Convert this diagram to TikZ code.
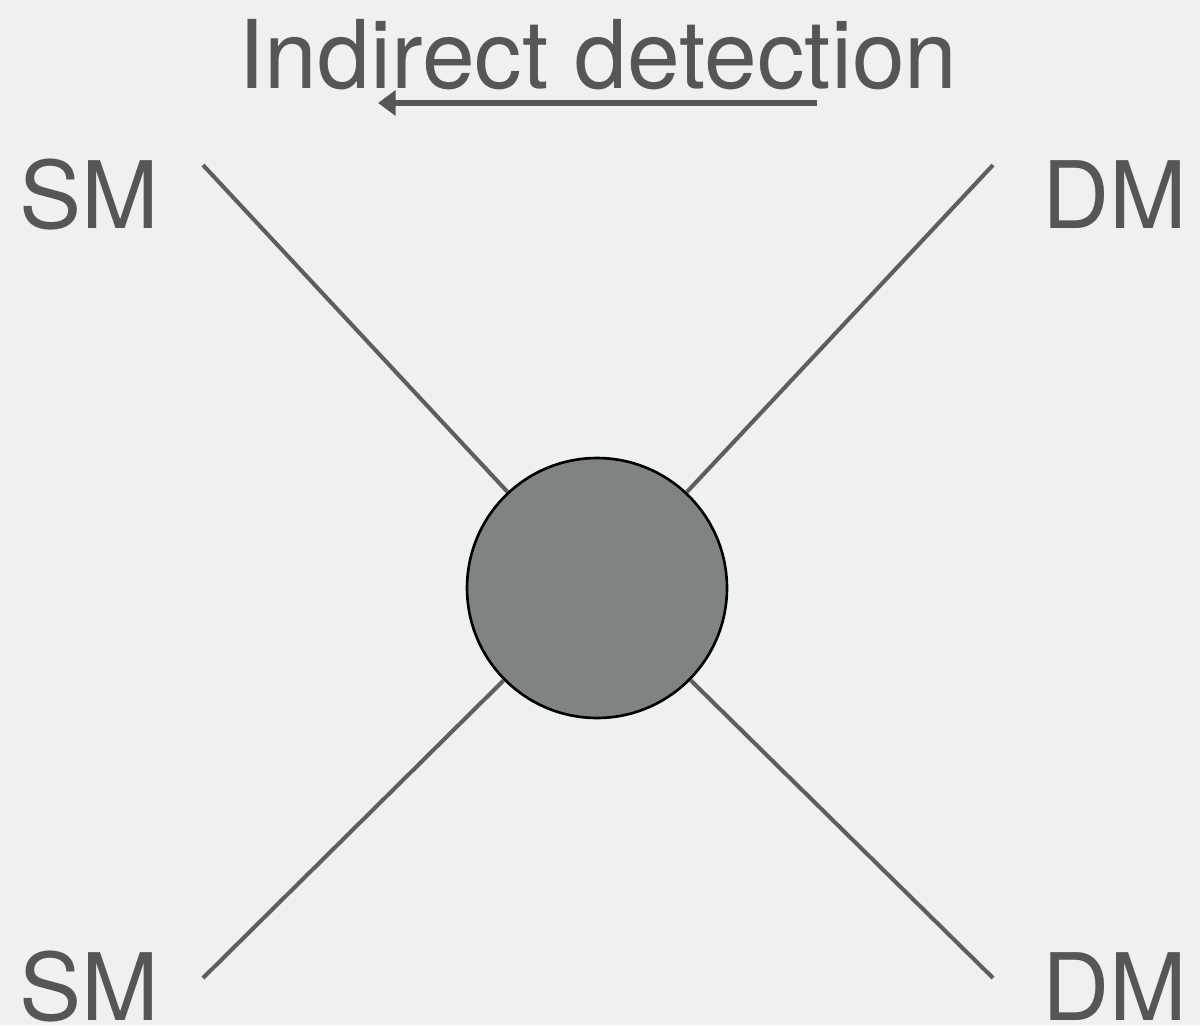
\documentclass[tikz,border=0pt]{standalone}
\usepackage{fontspec}
\setmainfont{TeX Gyre Heros}
\usetikzlibrary{arrows.meta}
\definecolor{bg}{HTML}{EEF0F2}
\definecolor{ink}{HTML}{565656}
\definecolor{leg}{HTML}{5E5E5E}
\definecolor{blobfill}{HTML}{7F8481}
\begin{document}
\begin{tikzpicture}[x=0.02cm,y=-0.02cm,
  lbl/.style={text=ink,font=\fontsize{53}{60}\selectfont,inner sep=0pt,anchor=base},
  leg/.style={draw=leg,line width=2.3pt},
  blobstyle/.style={circle,draw=black,line width=1.5pt,fill=blobfill,minimum size=5.2cm,inner sep=0pt}]
\fill[bg] (0,0) rectangle (1200,1025);
\useasboundingbox (0,0) rectangle (1200,1025);
\node[lbl,font=\fontsize{54}{60}\selectfont] (title) at (598,88) {Indirect detection};
\coordinate (arrS) at (817,103);
\coordinate (arrE) at (378,103);
\draw[draw=ink,line width=3.2pt,-{Triangle[length=10pt,width=14pt]}] (arrS) -- (arrE);
\node[blobstyle] (blob) at (597,588) {};
\coordinate (tl) at (203,165);
\coordinate (tr) at (993,165);
\coordinate (bl) at (203,978);
\coordinate (br) at (993,978);
\draw[leg] (tl) -- (blob);
\draw[leg] (tr) -- (blob);
\draw[leg] (bl) -- (blob);
\draw[leg] (br) -- (blob);
\node[lbl] (smtop) at (89,228) {SM};
\node[lbl] (dmtop) at (1115,228) {DM};
\node[lbl] (smbot) at (89,1020) {SM};
\node[lbl] (dmbot) at (1115,1020) {DM};
\end{tikzpicture}
\end{document}
